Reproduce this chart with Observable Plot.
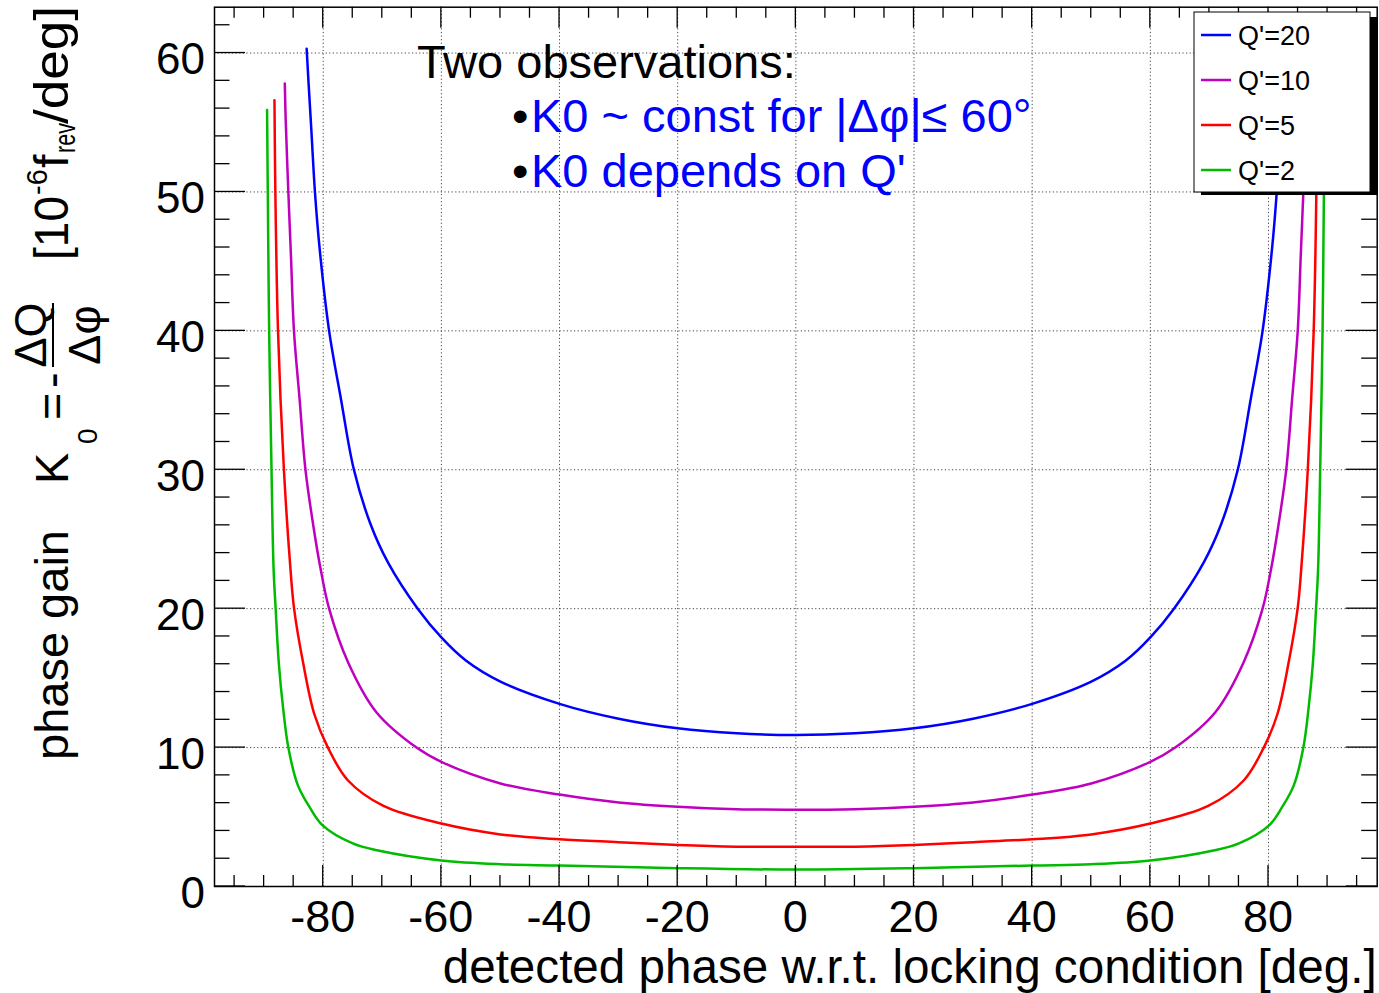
<!DOCTYPE html>
<html><head><meta charset="utf-8">
<script src="https://cdn.jsdelivr.net/npm/d3@7"></script>
<script src="https://cdn.jsdelivr.net/npm/@observablehq/plot@0.6"></script>
<style>body{margin:0;background:#fff;} svg{display:block;}</style>
</head><body><div id="chart"></div>
<script>
// ---------------- data ----------------
const seriesNames = ["Q'=20", "Q'=10", "Q'=5", "Q'=2"];
const seriesColors = ["#0000ff", "#bf00bf", "#ff0000", "#00bb00"];

const q20X = [-82.8,-82.5,-82.0,-81.4,-80.6,-79.0,-77.0,-74.8,-72.0,-69.0,-64.0,-60.0,-55.8,-50.0,-40.0,-30.0,-20.0,-10.0,0,10,20,30,40,50,55.8,60,64.0,69.0,72.0,74.8,77.0,79.0,80.6,81.4,82.0,82.5,82.8];
const q20Y = [60.3,58.0,54.4,50.0,45.9,40.0,35.1,30.0,26.1,23.3,20.0,17.93,16.25,14.75,13.15,12.08,11.39,11.03,10.91,11.03,11.39,12.08,13.15,14.75,16.25,17.93,20.0,23.3,26.1,30.0,35.1,40.0,45.9,50.0,54.4,58.0,60.3];

const q10X = [-86.5,-86.35,-85.9,-85.45,-84.95,-84.0,-83.0,-81.5,-80.5,-79.0,-75.8,-71.0,-64.2,-60.0,-50.0,-40.0,-30.0,-20.0,-10.0,0,10,20,30,40,50,60,64.2,71.0,75.8,79.0,80.5,81.5,83.0,84.0,84.95,85.45,85.9,86.35,86.5];
const q10Y = [57.8,55.2,50.0,45.3,40.0,35.1,30.0,25.5,23.0,20.0,16.15,12.55,10.0,8.97,7.42,6.62,6.05,5.74,5.57,5.53,5.57,5.74,6.05,6.62,7.42,8.97,10.0,12.55,16.15,20.0,23.0,25.5,30.0,35.1,40.0,45.3,50.0,55.2,57.8];

const q5X = [-88.25,-88.1,-87.65,-86.65,-85.55,-84.93,-83.4,-81.5,-79.2,-75.8,-69.8,-60.0,-50.0,-40.0,-30.0,-20.0,-10.0,0,10,20,30,40,50,60,69.8,75.8,79.2,81.5,83.4,84.93,85.55,86.65,87.65,88.1,88.25];
const q5Y = [56.6,50.0,40.0,30.0,22.9,20.0,16.1,12.4,10.0,7.63,5.8,4.53,3.75,3.40,3.19,2.99,2.87,2.86,2.87,2.99,3.19,3.40,3.75,4.53,5.8,7.63,10.0,12.4,16.1,20.0,22.9,30.0,40.0,50.0,56.6];

const q2X = [-89.5,-89.38,-89.15,-88.75,-88.4,-88.05,-87.5,-86.8,-85.9,-84.3,-82.3,-80.1,-75.0,-70.7,-60.0,-50.0,-40.0,-20.0,0,20,40,50,60,70.7,75.0,80.1,82.3,84.3,85.9,86.8,87.5,88.05,88.4,88.75,89.15,89.38,89.5];
const q2Y = [55.9,50.0,40.0,30.0,22.9,20.0,16.0,12.9,10.0,7.3,5.71,4.4,3.1,2.59,1.87,1.6,1.51,1.32,1.22,1.32,1.51,1.6,1.87,2.59,3.1,4.4,5.71,7.3,10.0,12.9,16.0,20.0,22.9,30.0,40.0,50.0,55.9];

const xTickLabels = [-80, -60, -40, -20, 0, 20, 40, 60, 80];
const yTickLabels = [0, 10, 20, 30, 40, 50, 60];
const xMinorTicks = [-95,-90,-85,-75,-70,-65,-55,-50,-45,-35,-30,-25,-15,-10,-5,5,10,15,25,30,35,45,50,55,65,70,75,85,90,95];
const yMinorTicks = [2,4,6,8,12,14,16,18,22,24,26,28,32,34,36,38,42,44,46,48,52,54,56,58,62];

const xTitle = "detected phase w.r.t. locking condition [deg.]";
const noteTitle = "Two observations:";
const noteLines = ["K0 ~ const for |\u0394\u03c6|\u2264 60\u00b0", "K0 depends on Q'"];

// ---------------- build table ----------------
const seriesX = [q20X, q10X, q5X, q2X];
const seriesY = [q20Y, q10Y, q5Y, q2Y];
const rows = [];
seriesNames.forEach((name, i) => {
  seriesX[i].forEach((x, j) => rows.push({series: name, x, y: seriesY[i][j]}));
});

const FONT = "'Liberation Sans', Arial, Helvetica, sans-serif";
const X0 = -98.4, X1 = 98.4, Y0 = 0, Y1 = 63.3;

const chart = Plot.plot({
  width: 1379, height: 993,
  marginLeft: 214, marginRight: 2.3, marginTop: 6.7, marginBottom: 107,
  x: {domain: [X0, X1], axis: null},
  y: {domain: [Y0, Y1], axis: null},
  color: {domain: seriesNames, range: seriesColors},
  style: {fontFamily: FONT, background: "white", overflow: "visible"},
  marks: [
    Plot.ruleX(xTickLabels, {stroke: "#444", strokeWidth: 1, strokeDasharray: "1.2,2.4"}),
    Plot.ruleY(yTickLabels.filter(d => d > 0), {stroke: "#444", strokeWidth: 1, strokeDasharray: "1.2,2.4"}),
    Plot.line(rows, {x: "x", y: "y", z: "series", stroke: "series", strokeWidth: 2.5, curve: "catmull-rom"}),
    Plot.frame({stroke: "black", strokeWidth: 1.5})
  ]
});
document.getElementById("chart").appendChild(chart);

const sx = chart.scale("x"), sy = chart.scale("y");
const svg = d3.select(chart);
const pLeft = sx.apply(X0), pRight = sx.apply(X1), pBottom = sy.apply(Y0), pTop = sy.apply(Y1);

// ---------------- ticks ----------------
const tg = svg.append("g").attr("stroke", "black").attr("stroke-width", 1.3);
function xTick(v, len) {
  const px = sx.apply(v);
  tg.append("line").attr("x1", px).attr("x2", px).attr("y1", pBottom).attr("y2", pBottom - len);
  tg.append("line").attr("x1", px).attr("x2", px).attr("y1", pTop).attr("y2", pTop + len);
}
function yTick(v, len) {
  const py = sy.apply(v);
  tg.append("line").attr("y1", py).attr("y2", py).attr("x1", pLeft).attr("x2", pLeft + len);
  tg.append("line").attr("y1", py).attr("y2", py).attr("x1", pRight).attr("x2", pRight - len);
}
xTickLabels.forEach(v => xTick(v, 21));
xMinorTicks.forEach(v => xTick(v, 11));
yTickLabels.forEach(v => yTick(v, 31));
yMinorTicks.forEach(v => yTick(v, 15.5));

// ---------------- tick labels ----------------
const lg = svg.append("g").attr("font-family", FONT).attr("fill", "black");
xTickLabels.forEach(v => {
  lg.append("text").attr("x", sx.apply(v)).attr("y", pBottom + 46).attr("text-anchor", "middle")
    .attr("font-size", 45).text(String(v));
});
yTickLabels.forEach(v => {
  lg.append("text").attr("x", pLeft - 9).attr("y", sy.apply(v) + 21.5).attr("text-anchor", "end")
    .attr("font-size", 44).text(String(v));
});

// x title
lg.append("text").attr("x", pRight).attr("y", 983).attr("text-anchor", "end")
  .attr("font-size", 47.6).text(xTitle);

// y title (rotated): u = -pageY, v = pageX - 68
const yt = svg.append("g").attr("transform", "translate(68,0) rotate(-90)")
  .attr("font-family", FONT).attr("fill", "black");
function ytext(str, pageY, v, size, anchor, len) {
  const t = yt.append("text").attr("x", -pageY).attr("y", v).attr("font-size", size)
    .attr("text-anchor", anchor || "start").text(str);
  if (len) t.attr("textLength", len).attr("lengthAdjust", "spacingAndGlyphs");
}
ytext("phase gain", 760, 0, 47);
ytext("K", 484, 0, 47);
ytext("0", 444, 29, 28);
ytext("=", 420, 0, 47);
ytext("-", 388, 0, 47);
ytext("\u0394Q", 335, -22, 45, "middle");
ytext("\u0394\u03c6", 335, 32, 45, "middle");
yt.append("line").attr("x1", -367).attr("x2", -303).attr("y1", -15).attr("y2", -15)
  .attr("stroke", "black").attr("stroke-width", 2);
ytext("[10", 260, 0, 48, "start", 64);
ytext("-6", 195, -21, 29);
ytext("f", 168, 0, 48);
ytext("rev", 153, 7, 29, "start", 30);
ytext("/deg]", 124, 0, 49, "start", 118);

// ---------------- annotation ----------------
const ng = svg.append("g").attr("font-family", FONT).attr("font-size", 47).attr("text-anchor", "start");
ng.append("text").attr("x", 417).attr("y", 78).attr("fill", "black").text(noteTitle);
noteLines.forEach((s, i) => {
  const by = 131.5 + i * 55;
  ng.append("text").attr("x", 512).attr("y", by).attr("fill", "black").text("\u2022");
  ng.append("text").attr("x", 531).attr("y", by).attr("fill", "#0000ff").text(s);
});

// ---------------- legend ----------------
const leg = svg.append("g").attr("font-family", FONT).attr("text-anchor", "start");
leg.append("rect").attr("x", 1201).attr("y", 17).attr("width", 177).attr("height", 178).attr("fill", "black");
leg.append("rect").attr("x", 1194).attr("y", 12).attr("width", 176).attr("height", 180)
  .attr("fill", "white").attr("stroke", "black").attr("stroke-width", 1);
seriesNames.forEach((name, i) => {
  const ly = 35 + i * 45;
  leg.append("line").attr("x1", 1201).attr("x2", 1231).attr("y1", ly).attr("y2", ly)
    .attr("stroke", seriesColors[i]).attr("stroke-width", 2.5);
  leg.append("text").attr("x", 1238).attr("y", ly + 10).attr("font-size", 27).attr("fill", "black").text(name);
});
</script>
</body></html>
